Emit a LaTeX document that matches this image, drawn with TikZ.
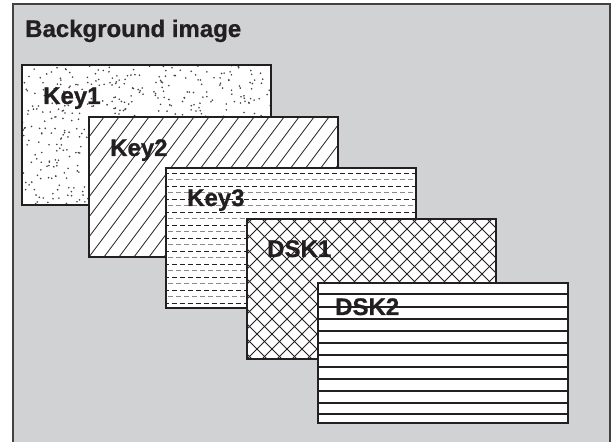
\documentclass[tikz,border=0pt]{standalone}
\usepackage{fontspec}
\setmainfont{Liberation Sans}
\newfontfamily\lblfont{Liberation Sans}[BoldFeatures={FakeBold=0.8}]
\definecolor{bggray}{HTML}{D1D2D4}
\definecolor{ink}{HTML}{231F20}
\definecolor{dashgray}{HTML}{8A8A8C}
\begin{document}
\begin{tikzpicture}[x=1pt,y=1pt,
  boxline/.style={draw=ink, line width=1.3pt},
  hatch/.style={draw=ink, line width=0.8pt},
  lbl/.style={font=\fontsize{24}{24}\lblfont\bfseries, text=ink, anchor=base west, inner sep=0pt}]
\useasboundingbox (0,0) rectangle (612,441);
\begin{scope}
\clip (0,0) rectangle (612,441);
\fill[bggray] (13,437) rectangle (610,-10);
\draw[line width=1.8pt, draw=ink!85] (13,-10) -- (13,437) -- (610,437) -- (610,-10);
\end{scope}
\node[lbl] (title) at (25,404) {Background image};

% Key1
\fill[white] (22,236) rectangle (271,376);
\begin{scope}
\clip (22,236) rectangle (271,376);
\pgfmathsetseed{7}
\foreach \i in {1,...,600} { \fill[ink!85] (22+rnd*249, 236+rnd*140) circle (0.9); }
\end{scope}
\draw[boxline] (22,236) rectangle (271,376);
\node[lbl] (key1) at (43,337) {Key1};

% Key2
\fill[white] (89,184) rectangle (338,324);
\begin{scope}
\clip (89,184) rectangle (338,324);
\foreach \k in {-120,-105,...,255} { \draw[hatch] (89+\k,184) -- ++(105,140); }
\end{scope}
\draw[boxline] (89,184) rectangle (338,324);
\node[lbl] (key2) at (110,285) {Key2};

% Key3
\fill[white] (166,133) rectangle (416,273);
\begin{scope}
\clip (166,133) rectangle (416,273);
\foreach \j in {0,...,20} {
  \pgfmathsetmacro\yy{268-\j*6.5}
  \pgfmathtruncatemacro\odd{mod(\j,2)}
  \ifnum\odd=0
    \draw[draw=ink, line width=0.9pt, dash pattern=on 5pt off 3pt, dash phase=2pt] (166,\yy) -- (416,\yy);
  \else
    \draw[draw=dashgray, line width=0.9pt, dash pattern=on 5pt off 3pt, dash phase=6pt] (166,\yy) -- (416,\yy);
  \fi
}
\end{scope}
\draw[boxline] (166,133) rectangle (416,273);
\node[lbl] (key3) at (187,235) {Key3};

% DSK1
\fill[white] (247,82) rectangle (496,222);
\begin{scope}
\clip (247,82) rectangle (496,222);
\foreach \k in {-150,-135,...,270} {
  \draw[hatch] (247+\k,82) -- ++(140,140);
  \draw[hatch] (247+\k,222) -- ++(140,-140);
}
\end{scope}
\draw[boxline] (247,82) rectangle (496,222);
\node[lbl] (dsk1) at (267,184) {DSK1};

% DSK2
\fill[white] (318,18) rectangle (568,158);
\foreach \yy in {147,134,122,110,98,86,74,62,50,38,27} {
  \draw[draw=ink, line width=1.2pt] (318,\yy) -- (568,\yy);
}
\draw[boxline] (318,18) rectangle (568,158);
\node[lbl] (dsk2) at (335,126) {DSK2};
\end{tikzpicture}
\end{document}
